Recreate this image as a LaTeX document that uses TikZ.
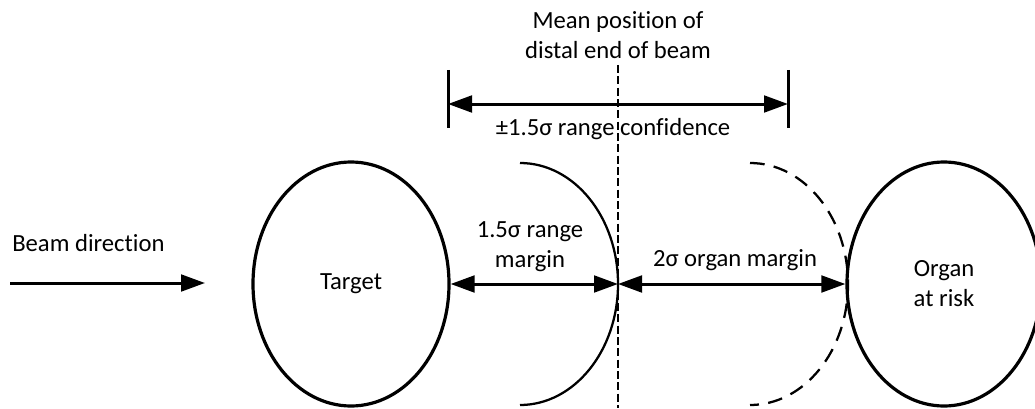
\documentclass[tikz,border=0pt]{standalone}
\usepackage{fontspec}
\setmainfont[Ligatures={NoCommon}]{Carlito}
\usetikzlibrary{arrows.meta,shapes.geometric}

\tikzset{
  organ/.style={draw, ellipse, line width=2.4pt, inner sep=0pt,
    minimum height=183pt, align=center},
  limb/.style={line width=1.7pt},
  dimline/.style={line width=2.25pt, {Triangle[length=18pt,width=12.5pt]}-{Triangle[length=18pt,width=12.5pt]}},
  tickmark/.style={line width=2.25pt},
  lbl/.style={align=center, inner sep=0pt, font=\fontsize{18.5pt}{22.5pt}\selectfont}
}

\begin{document}
\begin{tikzpicture}[x=0.75pt, y=0.75pt]
  \useasboundingbox (0,0) rectangle (1035,408);

  % target and organ at risk
  \node[organ, minimum width=147pt, font=\fontsize{18.5pt}{22.5pt}\selectfont] (target) at (351,124) {Target};
  \node[organ, minimum width=145.5pt, font=\fontsize{18.5pt}{22.5pt}\selectfont] (oar) at (944,124) {Organ\\at risk};

  % distal edge of the beam and the 2-sigma organ limit
  \coordinate (distal) at (618,124);
  \coordinate (limit) at (848,124);
  \draw[limb] (520,245) arc[start angle=90, end angle=-90, x radius=73.5pt, y radius=90.75pt];
  \draw[limb, dash pattern=on 11pt off 7pt] (750,245) arc[start angle=90, end angle=-90, x radius=73.5pt, y radius=90.75pt];

  % mean position of the distal end
  \coordinate (meantop) at (618,343);
  \coordinate (meanbot) at (618,0);
  \draw[line width=1.7pt, dash pattern=on 6pt off 2.5pt] (meantop) -- (meanbot);
  \node[lbl] (meanlbl) at (618,373) {Mean position of\\distal end of beam};

  % range confidence interval
  \coordinate (cl1) at (448,338);
  \coordinate (cl2) at (448,280);
  \coordinate (cr1) at (788,338);
  \coordinate (cr2) at (788,280);
  \coordinate (cla) at (448,304);
  \coordinate (cra) at (788,304);
  \draw[tickmark] (cl1) -- (cl2);
  \draw[tickmark] (cr1) -- (cr2);
  \draw[dimline] (cla) -- (cra);
  \node[lbl] (conf) at (613,279) {±1.5σ range confidence};

  % margins
  \draw[dimline] (target.east) -- (distal);
  \draw[dimline] (distal) -- (oar.west);
  \node[lbl] (rangelbl) at (530,161) {1.5σ range\\margin};
  \node[lbl] (organlbl) at (735,148) {2σ organ margin};

  % beam direction
  \node[lbl, anchor=west] (beamlbl) at (12,165) {Beam direction};
  \coordinate (b0) at (10,125);
  \coordinate (b1) at (205,125);
  \draw[line width=2.25pt, -{Triangle[length=18pt,width=12.5pt]}] (b0) -- (b1);
\end{tikzpicture}
\end{document}
